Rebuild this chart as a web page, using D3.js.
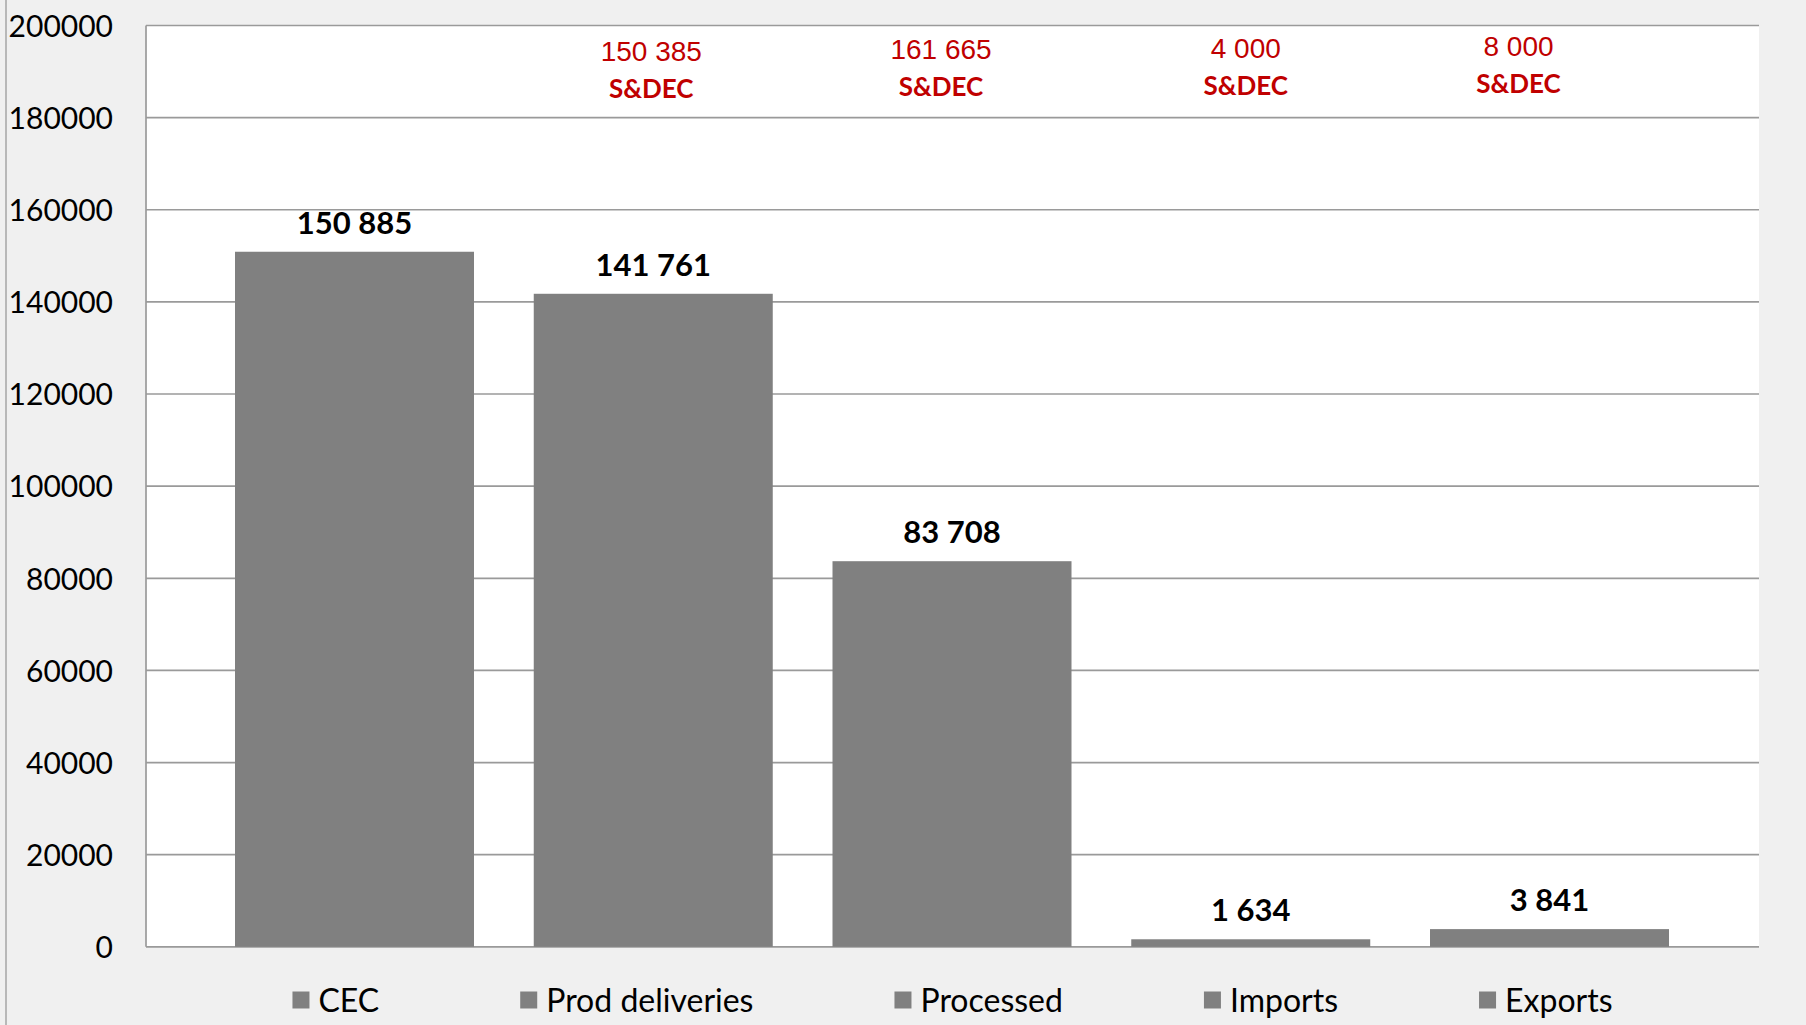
<!DOCTYPE html>
<html>
<head>
<meta charset="utf-8">
<script src="https://cdn.jsdelivr.net/npm/d3@7"></script>
<style>
  html, body { margin: 0; padding: 0; background: #f0f0f0; }
  svg { display: block; }
</style>
</head>
<body>
<svg id="chart" width="1806" height="1025"></svg>
<script>
// ---- data ----
const categories = ["CEC", "Prod deliveries", "Processed", "Imports", "Exports"];
const values = [150885, 141761, 83708, 1634, 3841];
const noteValues = [null, 150385, 161665, 4000, 8000];
const noteLabel = "S&DEC";
const yTicks = [0, 20000, 40000, 60000, 80000, 100000, 120000, 140000, 160000, 180000, 200000];

// ---- layout ----
const W = 1806, H = 1025;
const plot = { left: 146, right: 1759, top: 25.5, bottom: 946.8 };
const noteDx = [0, -2, -11, -5, -31];
const noteDy = [0, 2, 0, -1, -3];

const svg = d3.select("#chart");
svg.append("rect").attr("width", W).attr("height", H).attr("fill", "#f0f0f0");
svg.append("line").attr("x1", 6).attr("x2", 6).attr("y1", 0).attr("y2", H)
  .attr("stroke", "#a6a6a6").attr("stroke-width", 1.5);

const y = d3.scaleLinear().domain([0, 200000]).range([plot.bottom, plot.top]);
const x = d3.scaleBand().domain(categories).range([235, 1669]).paddingInner(0.2).paddingOuter(0);

// plot area
svg.append("rect").attr("x", plot.left).attr("y", plot.top)
  .attr("width", plot.right - plot.left).attr("height", plot.bottom - plot.top)
  .attr("fill", "#ffffff");

// gridlines
svg.append("g").selectAll("line").data(yTicks).join("line")
  .attr("x1", plot.left).attr("x2", plot.right)
  .attr("y1", d => y(d)).attr("y2", d => y(d))
  .attr("stroke", "#9a9a9a").attr("stroke-width", 1.7);
svg.append("line").attr("x1", plot.left).attr("x2", plot.left)
  .attr("y1", plot.top).attr("y2", plot.bottom)
  .attr("stroke", "#9a9a9a").attr("stroke-width", 1.7);

// y axis labels
const yAxis = d3.axisLeft(y).tickValues(yTicks).tickFormat(d3.format("d")).tickSize(0).tickPadding(0);
const gy = svg.append("g").attr("transform", `translate(113,0)`).call(yAxis);
gy.select(".domain").remove();
gy.selectAll("text").attr("font-family", "Lato, 'Open Sans', sans-serif")
  .attr("font-size", 30).attr("fill", "#000").attr("dy", "0.36em");

// bars
svg.append("g").selectAll("rect").data(values).join("rect")
  .attr("x", (d, i) => x(categories[i]))
  .attr("width", x.bandwidth())
  .attr("y", d => y(d))
  .attr("height", d => y(0) - y(d))
  .attr("fill", "#808080");

// value labels
const fmt = d3.formatLocale({ decimal: ".", thousands: " ", grouping: [3], currency: ["", ""] }).format(",d");
svg.append("g").selectAll("text").data(values).join("text")
  .attr("x", (d, i) => x(categories[i]) + x.bandwidth() / 2)
  .attr("y", d => y(d) - 18)
  .attr("text-anchor", "middle")
  .attr("font-family", "Lato, sans-serif").attr("font-weight", "bold")
  .attr("font-size", 31).attr("fill", "#000")
  .text(d => fmt(d));

// red notes
const notes = svg.append("g");
noteValues.forEach((v, i) => {
  if (v == null) return;
  const cx = x(categories[i]) + x.bandwidth() / 2 + noteDx[i];
  notes.append("text").attr("x", cx).attr("y", 59 + noteDy[i])
    .attr("text-anchor", "middle")
    .attr("font-family", "'Liberation Sans', Arial, sans-serif")
    .attr("font-size", 28).attr("fill", "#c00000")
    .text(fmt(v));
  notes.append("text").attr("x", cx).attr("y", 96 + noteDy[i])
    .attr("text-anchor", "middle")
    .attr("font-family", "Lato, sans-serif").attr("font-weight", "bold")
    .attr("font-size", 26).attr("fill", "#c00000")
    .text(noteLabel);
});

// legend (centered under plot, equal gaps)
const legend = svg.append("g");
const sq = 17, sqGap = 9, itemGap = 141;
const items = categories.map(c => {
  const g = legend.append("g");
  g.append("rect").attr("width", sq).attr("height", sq).attr("y", -sq / 2).attr("fill", "#808080");
  const t = g.append("text").attr("x", sq + sqGap).attr("y", 0).attr("dy", "0.36em")
    .attr("font-family", "Lato, sans-serif").attr("font-size", 32).attr("fill", "#000").text(c);
  return { g, w: sq + sqGap + t.node().getComputedTextLength() };
});
const totalW = d3.sum(items, d => d.w) + itemGap * (items.length - 1);
let lx = (plot.left + plot.right) / 2 - totalW / 2;
items.forEach(it => {
  it.g.attr("transform", `translate(${lx},1000)`);
  lx += it.w + itemGap;
});
</script>
</body>
</html>
